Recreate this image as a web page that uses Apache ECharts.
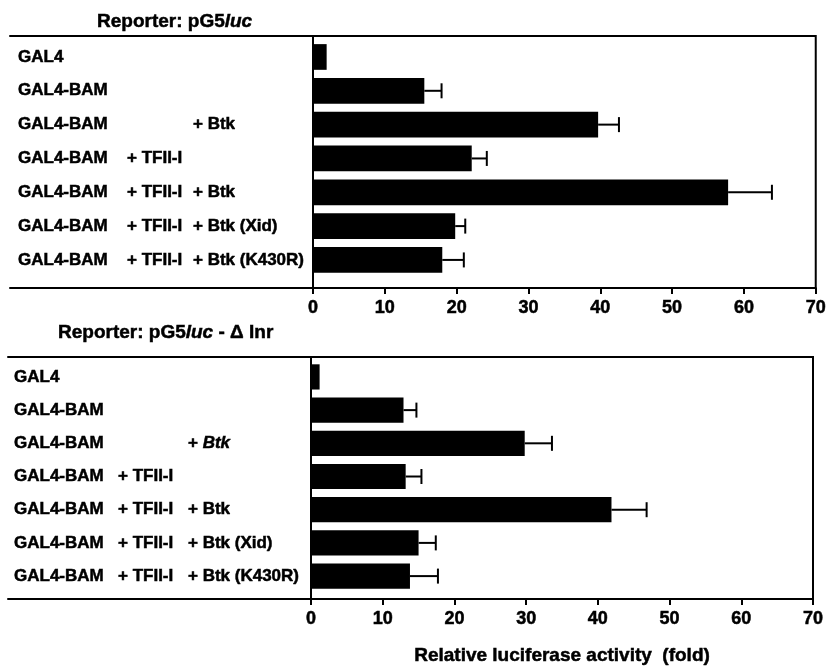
<!DOCTYPE html>
<html>
<head>
<meta charset="utf-8">
<script src="https://cdn.jsdelivr.net/npm/echarts@6/dist/echarts.min.js"></script>
<style>html,body{margin:0;padding:0;background:#fff}#c{width:829px;height:669px}</style>
</head>
<body>
<div id="c"></div>
<script>
// ---- data ----
const col1 = ['GAL4', 'GAL4-BAM', 'GAL4-BAM', 'GAL4-BAM', 'GAL4-BAM', 'GAL4-BAM', 'GAL4-BAM'];
const col2 = ['', '', '', '+ TFII-I', '+ TFII-I', '+ TFII-I', '+ TFII-I'];
const col3 = ['', '', '+ Btk', '', '+ Btk', '+ Btk (Xid)', '+ Btk (K430R)'];
const topValues = [1.9, 15.5, 39.7, 22.1, 57.8, 19.8, 18.0];
const topErrHigh = [null, 17.9, 42.6, 24.2, 63.9, 21.2, 21.0];
const botValues = [1.2, 12.9, 29.8, 13.2, 41.9, 15.0, 13.8];
const botErrHigh = [null, 14.7, 33.6, 15.4, 46.8, 17.4, 17.7];
const xTicks = [0, 10, 20, 30, 40, 50, 60, 70];
const rowIdx = [0, 1, 2, 3, 4, 5, 6];
const topTitle = ['Reporter: pG5', 'luc', ''];
const botTitle = ['Reporter: pG5', 'luc', ' - \u0394 Inr'];
const xName = 'Relative luciferase activity  (fold)';

// ---- chart ----
const FONT = '"Liberation Sans", Arial, Helvetica, sans-serif';
const BAR_H = 0.76;
const CAP = 7.5;
const HEAVY = { textBorderColor: '#000', textBorderWidth: 0.5 };

function mkData(vals, errs) {
  return vals.map((v, i) => [v, rowIdx[i], errs[i] == null ? NaN : errs[i]]);
}

function renderBars(params, api) {
  const v = api.value(0), r = api.value(1), e = api.value(2);
  const base = api.coord([0, r]);
  const end = api.coord([v, r]);
  const h = api.size([0, BAR_H])[1];
  const children = [{
    type: 'rect',
    shape: { x: base[0], y: base[1] - h / 2, width: end[0] - base[0], height: h },
    style: { fill: '#000' }
  }];
  if (isFinite(e)) {
    const pe = api.coord([e, r]);
    children.push({ type: 'line', shape: { x1: end[0], y1: end[1], x2: pe[0], y2: pe[1] }, style: { stroke: '#000', lineWidth: 2 } });
    children.push({ type: 'line', shape: { x1: pe[0], y1: pe[1] - CAP, x2: pe[0], y2: pe[1] + CAP }, style: { stroke: '#000', lineWidth: 2 } });
  }
  return { type: 'group', children };
}

function labelFmt(italicBtkRow) {
  return function (val) {
    const i = Math.round(val);
    const b = col2[i] || ' ';
    const c = col3[i] || ' ';
    let cPart = '{c|' + c + '}';
    if (i === italicBtkRow && c.indexOf('Btk') >= 0) {
      cPart = '{c|+ }{ci|Btk}';
    }
    return '{a|' + col1[i] + '}{b|' + b + '}' + cPart;
  };
}

function labelRich(wa, wb) {
  const base = Object.assign({ fontFamily: FONT, fontWeight: 'bold', fontSize: 17, color: '#000' }, HEAVY);
  return {
    a: Object.assign({ width: wa, align: 'left' }, base),
    b: Object.assign({ width: wb, align: 'left' }, base),
    c: Object.assign({ align: 'left' }, base),
    ci: Object.assign({ align: 'left', fontStyle: 'italic' }, base)
  };
}

const lineStyle = { color: '#000', width: 2 };

function valueXAxis(gridIndex, withName) {
  const ax = {
    type: 'value', gridIndex, min: 0, max: 70, interval: 10,
    axisLine: { show: true, onZero: false, lineStyle },
    axisTick: { show: true, length: 6, lineStyle },
    axisLabel: Object.assign({ color: '#000', fontFamily: FONT, fontWeight: 'bold', fontSize: 18, margin: 11,
      customValues: xTicks }, HEAVY),
    splitLine: { show: false }
  };
  if (withName) {
    ax.name = xName;
    ax.nameLocation = 'middle';
    ax.nameGap = 47;
    ax.nameTextStyle = Object.assign({ color: '#000', fontFamily: FONT, fontWeight: 'bold', fontSize: 19 }, HEAVY);
  }
  return ax;
}

function frameXAxis(gridIndex, position) {
  return {
    type: 'value', gridIndex, position, min: 0, max: 1,
    axisLine: { show: true, onZero: false, lineStyle },
    axisTick: { show: false }, axisLabel: { show: false }, splitLine: { show: false }
  };
}

function titleRich() {
  const base = Object.assign({ fontFamily: FONT, fontWeight: 'bold', fontSize: 19, color: '#000' }, HEAVY);
  return { n: base, i: Object.assign({ fontStyle: 'italic' }, base) };
}

const option = {
  animation: false,
  backgroundColor: '#fff',
  title: [
    { text: '{n|' + topTitle[0] + '}{i|' + topTitle[1] + '}', left: 97, top: 12, padding: 0,
      textStyle: { rich: titleRich() } },
    { text: '{n|' + botTitle[0] + '}{i|' + botTitle[1] + '}{n|' + botTitle[2] + '}', left: 58, top: 323, padding: 0,
      textStyle: { rich: titleRich() } }
  ],
  grid: [
    { left: 313, width: 504, top: 36, height: 252, show: true, borderColor: '#000', borderWidth: 2, backgroundColor: 'transparent' },
    { left: 10, width: 303, top: 36, height: 252 },
    { left: 311, width: 502, top: 357, height: 242, show: true, borderColor: '#000', borderWidth: 2, backgroundColor: 'transparent' },
    { left: 8, width: 303, top: 357, height: 242 }
  ],
  xAxis: [
    valueXAxis(0, false),
    frameXAxis(1, 'top'),
    frameXAxis(1, 'bottom'),
    valueXAxis(2, true),
    frameXAxis(3, 'top'),
    frameXAxis(3, 'bottom')
  ],
  yAxis: [
    { type: 'value', gridIndex: 0, min: -0.62, max: 6.83, inverse: true,
      axisLine: { show: true, onZero: false, lineStyle }, axisTick: { show: false }, splitLine: { show: false },
      axisLabel: { customValues: rowIdx, margin: 295, align: 'left', formatter: labelFmt(-1), rich: labelRich(109, 66) } },
    { type: 'value', gridIndex: 1, show: false, min: 0, max: 1 },
    { type: 'value', gridIndex: 2, min: -0.6, max: 6.69, inverse: true,
      axisLine: { show: true, onZero: false, lineStyle }, axisTick: { show: false }, splitLine: { show: false },
      axisLabel: { customValues: rowIdx, margin: 297, align: 'left', formatter: labelFmt(2), rich: labelRich(104, 70) } },
    { type: 'value', gridIndex: 3, show: false, min: 0, max: 1 }
  ],
  series: [
    { type: 'custom', xAxisIndex: 0, yAxisIndex: 0, renderItem: renderBars, encode: { x: 0, y: 1 },
      data: mkData(topValues, topErrHigh), z: 5 },
    { type: 'custom', xAxisIndex: 3, yAxisIndex: 2, renderItem: renderBars, encode: { x: 0, y: 1 },
      data: mkData(botValues, botErrHigh), z: 5 }
  ]
};

const chart = echarts.init(document.getElementById('c'), null, { renderer: 'canvas' });
chart.setOption(option);
</script>
</body>
</html>
